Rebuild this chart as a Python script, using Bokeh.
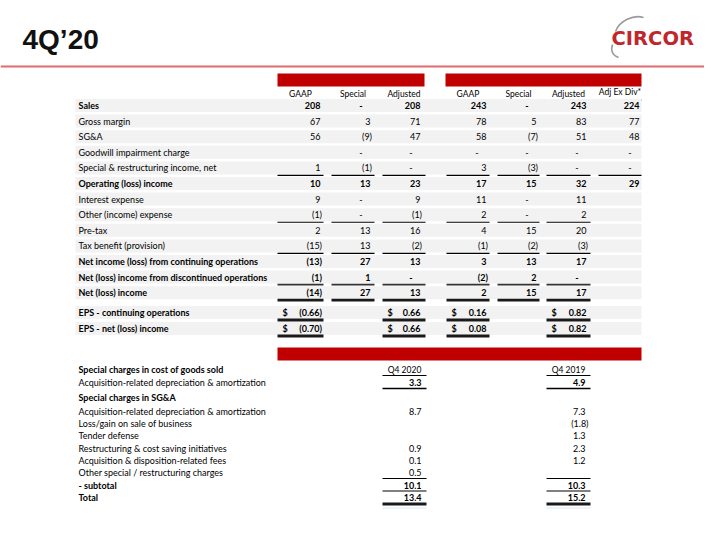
from bokeh.plotting import figure
from bokeh.models import Range1d, ColumnDataSource
from bokeh.core.properties import value
from bokeh.embed import file_html
from bokeh.resources import INLINE

# ---------------- data ----------------
title_text = "4Q\u201920"
logo_text = "CIRCOR"

col_headers = ["GAAP", "Special", "Adjusted", "GAAP", "Special", "Adjusted", "Adj Ex Div*"]

row_labels = [
    "Sales", "Gross margin", "SG&A", "Goodwill impairment charge",
    "Special & restructuring income, net", "Operating (loss) income",
    "Interest expense", "Other (income) expense", "Pre-tax",
    "Tax benefit (provision)", "Net income (loss) from continuing operations",
    "Net (loss) income from discontinued operations", "Net (loss) income",
    "EPS - continuing operations", "EPS - net (loss) income",
]
bold_rows = [True, False, False, False, False, True, False, False, False, False,
             True, True, True, True, True]

gaap_2020 = ["208", "67", "56", "", "1", "10", "9", "(1)", "2", "(15)", "(13)", "(1)", "(14)", "(0.66)", "(0.70)"]
special_2020 = ["-", "3", "(9)", "-", "(1)", "13", "-", "-", "13", "13", "27", "1", "27", "", ""]
adjusted_2020 = ["208", "71", "47", "-", "-", "23", "9", "(1)", "16", "(2)", "13", "-", "13", "0.66", "0.66"]
gaap_2019 = ["243", "78", "58", "-", "3", "17", "11", "2", "4", "(1)", "3", "(2)", "2", "0.16", "0.08"]
special_2019 = ["-", "5", "(7)", "-", "(3)", "15", "-", "-", "15", "(2)", "13", "2", "15", "", ""]
adjusted_2019 = ["243", "83", "51", "-", "-", "32", "11", "2", "20", "(3)", "17", "-", "17", "0.82", "0.82"]
adj_ex_div_2019 = ["224", "77", "48", "-", "-", "29", "", "", "", "", "", "", "", "", ""]

special_labels = [
    "Special charges in cost of goods sold",
    "Acquisition-related depreciation & amortization",
    "Special charges in SG&A",
    "Acquisition-related depreciation & amortization",
    "Loss/gain on sale of business",
    "Tender defense",
    "Restructuring & cost saving initiatives",
    "Acquisition & disposition-related fees",
    "Other special / restructuring charges",
    " - subtotal",
    "Total",
]
special_bold = [True, False, True, False, False, False, False, False, False, True, True]
special_headers = ["Q4 2020", "Q4 2019"]
q4_2020 = ["", "3.3", "", "8.7", "", "", "0.9", "0.1", "0.5", "10.1", "13.4"]
q4_2019 = ["", "4.9", "", "7.3", "(1.8)", "1.3", "2.3", "1.2", "", "10.3", "15.2"]
special_value_bold = [False, True, False, False, False, False, False, False, False, True, True]

# ---------------- layout ----------------
FONT = "Lato"
FS = "9px"
RED = "#c00000"

p = figure(width=704, height=524, x_range=Range1d(0, 704), y_range=Range1d(524, 0),
           output_backend="svg", toolbar_location=None, min_border=0,
           x_axis_type=None, y_axis_type=None)
p.xgrid.visible = False
p.ygrid.visible = False
p.outline_line_color = None
p.background_fill_color = "white"
p.border_fill_color = "white"


def add_text(xs, ys, texts, size=FS, bold=False, align="left", color="#000000",
             font=FONT, baseline="middle"):
    if not texts:
        return
    src = ColumnDataSource(dict(x=xs, y=ys, t=texts))
    p.text(x="x", y="y", text="t", source=src, text_font=value(font),
           text_font_size=value(size), text_font_style="bold" if bold else "normal",
           text_align=align, text_baseline=baseline, text_color=color)


def add_lines(x0, y0, x1, y1, width=1.0, color="#000000"):
    if not x0:
        return
    p.segment(x0=x0, y0=y0, x1=x1, y1=y1, line_width=width, line_color=color)


# header
add_text([22], [39], [title_text], size="28px", bold=True, font="Liberation Sans", color="#111111")
add_text([611], [38], [logo_text], size="19.5px", bold=True, font="DejaVu Sans", color="#c0272d")
p.bezier(x0=[615], y0=[31], x1=[643], y1=[17], cx0=[619], cy0=[20], cx1=[633], cy1=[14],
         line_color="#9a9a9a", line_width=1.6)
p.bezier(x0=[612], y0=[44], x1=[618], y1=[57], cx0=[610], cy0=[50], cx1=[612], cy1=[55],
         line_color="#9a9a9a", line_width=1.6)
add_lines([0], [66], [720], [66], width=2, color="#e36b6b")

# column geometry (cells)
cell_left = [277, 331, 382, 446, 497, 546, 598]
cell_right = [323, 374, 425, 489, 539, 590, 641]
num_right = [320, 370, 420, 486, 536, 586, 639]

# red header bars
p.quad(left=[277, 445], right=[424, 641], top=[73, 73], bottom=[86, 86],
       fill_color=RED, line_color=None)

# column headers
hx = [(l + r) / 2 for l, r in zip(cell_left, cell_right)]
hy = [93] * 6 + [91]
add_text(hx, hy, col_headers, align="center", size="8.5px")
add_lines(cell_left, [99.5] * 7, cell_right, [99.5] * 7, width=1.2, color="#000000")

# rows
row_y = [105 + 15.6 * i for i in range(13)] + [312, 328]
p.quad(left=[75] * len(row_y), right=[641] * len(row_y),
       top=[y - 6.5 for y in row_y], bottom=[y + 6.5 for y in row_y],
       fill_color="#f2f2f2", line_color=None)

lab_n = [l for l, b in zip(row_labels, bold_rows) if not b]
lab_ny = [y for y, b in zip(row_y, bold_rows) if not b]
lab_b = [l for l, b in zip(row_labels, bold_rows) if b]
lab_by = [y for y, b in zip(row_y, bold_rows) if b]
add_text([78] * len(lab_n), lab_ny, lab_n)
add_text([78] * len(lab_b), lab_by, lab_b, bold=True)

columns = [gaap_2020, special_2020, adjusted_2020, gaap_2019, special_2019, adjusted_2019, adj_ex_div_2019]
for ci, col in enumerate(columns):
    groups = {True: ([], [], []), False: ([], [], [])}
    dollars = ([], [], [])
    for ri, v in enumerate(col):
        if not v:
            continue
        x = num_right[ci]
        if v == "-":
            x -= 8
        elif v.startswith("("):
            x += 1.5
        g = groups[bold_rows[ri]]
        g[0].append(x)
        g[1].append(row_y[ri])
        g[2].append(v)
        if ri >= 13:
            dollars[0].append(cell_left[ci] + 5)
            dollars[1].append(row_y[ri])
            dollars[2].append("$")
    for b, g in groups.items():
        add_text(g[0], g[1], g[2], bold=b, align="right")
    add_text(dollars[0], dollars[1], dollars[2], bold=True)

# underlines in top table
def underline(row_index, cols, width, color, dy=7.5):
    y = row_y[row_index] + dy
    add_lines([cell_left[c] for c in cols], [y] * len(cols),
              [cell_right[c] for c in cols], [y] * len(cols), width=width, color=color)

underline(4, range(7), 1.1, "#000000")
underline(7, range(6), 1.1, "#000000")
underline(9, range(6), 1.1, "#000000")
underline(11, range(6), 1.6, "#333333")
underline(12, range(6), 2.8, "#1a1a1a")
underline(13, [0, 2, 3, 5], 2.8, "#1a1a1a")
underline(14, [0, 2, 3, 5], 2.8, "#1a1a1a")

# ---------------- special charges section ----------------
p.quad(left=[277], right=[641], top=[347], bottom=[360], fill_color=RED, line_color=None)

sp_y = [369, 382, 397, 410.5, 423, 435, 447.5, 459.5, 472, 484.5, 497]
sn = [l for l, b in zip(special_labels, special_bold) if not b]
sny = [y for y, b in zip(sp_y, special_bold) if not b]
sb = [l for l, b in zip(special_labels, special_bold) if b]
sby = [y for y, b in zip(sp_y, special_bold) if b]
add_text([78] * len(sn), sny, sn)
add_text([78] * len(sb), sby, sb, bold=True)

sc_left = [382, 546]
sc_right = [426, 590]
sc_num = [421, 585]
add_text([(l + r) / 2 for l, r in zip(sc_left, sc_right)], [369, 369], special_headers,
         align="center", size="8.5px")
add_lines(sc_left, [375, 375], sc_right, [375, 375], width=1.0)

for ci, col in enumerate([q4_2020, q4_2019]):
    groups = {True: ([], [], []), False: ([], [], [])}
    for ri, v in enumerate(col):
        if not v:
            continue
        x = sc_num[ci] + (3 if v.startswith("(") else 0)
        g = groups[special_value_bold[ri]]
        g[0].append(x)
        g[1].append(sp_y[ri])
        g[2].append(v)
    for b, g in groups.items():
        add_text(g[0], g[1], g[2], bold=b, align="right")

add_lines(sc_left, [388, 388], sc_right, [388, 388], width=1.4)
add_lines(sc_left, [478, 478], sc_right, [478, 478], width=1.0)
add_lines(sc_left, [490.5, 490.5], sc_right, [490.5, 490.5], width=1.0)
add_lines(sc_left, [503.5, 503.5], sc_right, [503.5, 503.5], width=2.8, color="#1a1a1a")
add_lines(sc_left, [507.5, 507.5], sc_right, [507.5, 507.5], width=1.0, color="#dbe8f5")

open("out.html", "w").write(file_html(p, INLINE))
